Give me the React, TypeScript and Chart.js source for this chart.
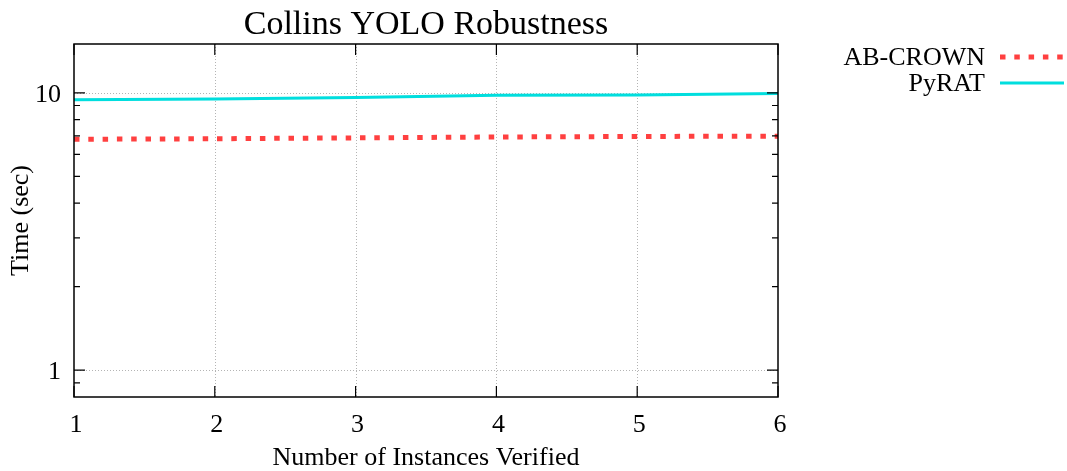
import React, { useEffect, useRef } from 'react';
import { Chart, registerables } from 'chart.js';

Chart.register(...registerables);

const instances = [1, 2, 3, 4, 5, 6];
const abCrownTimes = [6.8, 6.83, 6.88, 6.93, 6.96, 6.98];
const pyratTimes = [9.45, 9.5, 9.62, 9.8, 9.82, 9.95];
const xTickValues = [1, 2, 3, 4, 5, 6];
const yMajorTicks = [1, 10];
const yMinorTicks = [0.9, 2, 3, 4, 5, 6, 7, 8, 9];
const chartTitle = 'Collins YOLO Robustness';
const xAxisTitle = 'Number of Instances Verified';
const yAxisTitle = 'Time (sec)';
const seriesNames = ['AB-CROWN', 'PyRAT'];
const seriesColors = ['#ff4040', '#00dede'];

const FONT = '"Liberation Serif", "DejaVu Serif", serif';

const gnuplotPlugin = {
  id: 'gnuplotDecor',
  beforeDatasetsDraw(chart: any) {
    const { ctx, chartArea: a, scales } = chart;
    const x = scales.x;
    const y = scales.y;
    ctx.save();
    ctx.strokeStyle = '#b4b4b4';
    ctx.lineWidth = 1;
    ctx.setLineDash([1, 2]);
    xTickValues.forEach((v) => {
      const px = Math.round(x.getPixelForValue(v)) + 0.5;
      if (px <= a.left + 1 || px >= a.right - 1) return;
      ctx.beginPath();
      ctx.moveTo(px, a.top);
      ctx.lineTo(px, a.bottom);
      ctx.stroke();
    });
    yMajorTicks.forEach((v) => {
      const py = Math.round(y.getPixelForValue(v)) + 0.5;
      ctx.beginPath();
      ctx.moveTo(a.left, py);
      ctx.lineTo(a.right, py);
      ctx.stroke();
    });
    ctx.restore();
  },
  afterDatasetsDraw(chart: any) {
    const { ctx, chartArea: a, scales } = chart;
    const x = scales.x;
    const y = scales.y;
    ctx.save();
    ctx.setLineDash([]);
    ctx.strokeStyle = '#000';
    ctx.lineWidth = 1.5;
    ctx.strokeRect(a.left, a.top, a.right - a.left, a.bottom - a.top);

    // ticks
    ctx.lineWidth = 1.2;
    ctx.beginPath();
    xTickValues.forEach((v) => {
      const px = x.getPixelForValue(v);
      ctx.moveTo(px, a.bottom);
      ctx.lineTo(px, a.bottom - 11);
      ctx.moveTo(px, a.top);
      ctx.lineTo(px, a.top + 11);
    });
    yMajorTicks.forEach((v) => {
      const py = y.getPixelForValue(v);
      ctx.moveTo(a.left, py);
      ctx.lineTo(a.left + 11, py);
      ctx.moveTo(a.right, py);
      ctx.lineTo(a.right - 11, py);
    });
    yMinorTicks.forEach((v) => {
      const py = y.getPixelForValue(v);
      ctx.moveTo(a.left, py);
      ctx.lineTo(a.left + 6, py);
      ctx.moveTo(a.right, py);
      ctx.lineTo(a.right - 6, py);
    });
    ctx.stroke();

    // tick labels
    ctx.fillStyle = '#000';
    ctx.font = `26px ${FONT}`;
    ctx.textAlign = 'center';
    ctx.textBaseline = 'middle';
    xTickValues.forEach((v) => {
      ctx.fillText(String(v), x.getPixelForValue(v) + 2, a.bottom + 28);
    });
    ctx.textAlign = 'right';
    yMajorTicks.forEach((v) => {
      ctx.fillText(String(v), a.left - 13, y.getPixelForValue(v) + 2);
    });

    // axis titles
    ctx.textAlign = 'center';
    ctx.fillText(xAxisTitle, (a.left + a.right) / 2, a.bottom + 61);
    ctx.save();
    ctx.translate(21, (a.top + a.bottom) / 2);
    ctx.rotate(-Math.PI / 2);
    ctx.fillText(yAxisTitle, 0, 0);
    ctx.restore();

    // title
    ctx.font = `34px ${FONT}`;
    ctx.fillText(chartTitle, (a.left + a.right) / 2, 25);

    // legend
    ctx.font = `26px ${FONT}`;
    chart.data.datasets.forEach((ds: any, i: number) => {
      const ly = 57 + i * 26;
      ctx.textAlign = 'right';
      ctx.fillStyle = '#000';
      ctx.fillText(ds.label, 985, ly + 1);
      ctx.strokeStyle = ds.borderColor;
      ctx.lineWidth = ds.borderWidth;
      ctx.setLineDash(ds.borderDash || []);
      ctx.beginPath();
      ctx.moveTo(1000, ly);
      ctx.lineTo(1064, ly);
      ctx.stroke();
    });
    ctx.restore();
  },
};

export default function App() {
  const canvasRef = useRef<HTMLCanvasElement | null>(null);

  useEffect(() => {
    if (!canvasRef.current) return;
    const chart = new Chart(canvasRef.current, {
      type: 'line',
      data: {
        datasets: [
          {
            label: seriesNames[0],
            data: instances.map((v, i) => ({ x: v, y: abCrownTimes[i] })),
            borderColor: seriesColors[0],
            backgroundColor: seriesColors[0],
            borderWidth: 5,
            borderDash: [5.5, 8.8],
            borderCapStyle: 'butt',
            pointRadius: 0,
            tension: 0,
          },
          {
            label: seriesNames[1],
            data: instances.map((v, i) => ({ x: v, y: pyratTimes[i] })),
            borderColor: seriesColors[1],
            backgroundColor: seriesColors[1],
            borderWidth: 3,
            pointRadius: 0,
            tension: 0,
          },
        ],
      },
      options: {
        animation: false,
        responsive: false,
        maintainAspectRatio: false,
        layout: { padding: { left: 74, right: 289, top: 44, bottom: 74 } },
        plugins: {
          legend: { display: false },
          title: { display: false },
          tooltip: { enabled: false },
        },
        scales: {
          x: { type: 'linear', min: 1, max: 6, display: false },
          y: { type: 'logarithmic', min: 0.8, max: 15, display: false },
        },
      },
      plugins: [gnuplotPlugin],
    });
    return () => chart.destroy();
  }, []);

  return (
    <div style={{ position: 'fixed', left: 0, top: 0, width: 1067, height: 471, background: '#fff' }}>
      <canvas ref={canvasRef} width={1067} height={471} style={{ display: 'block' }} />
    </div>
  );
}
